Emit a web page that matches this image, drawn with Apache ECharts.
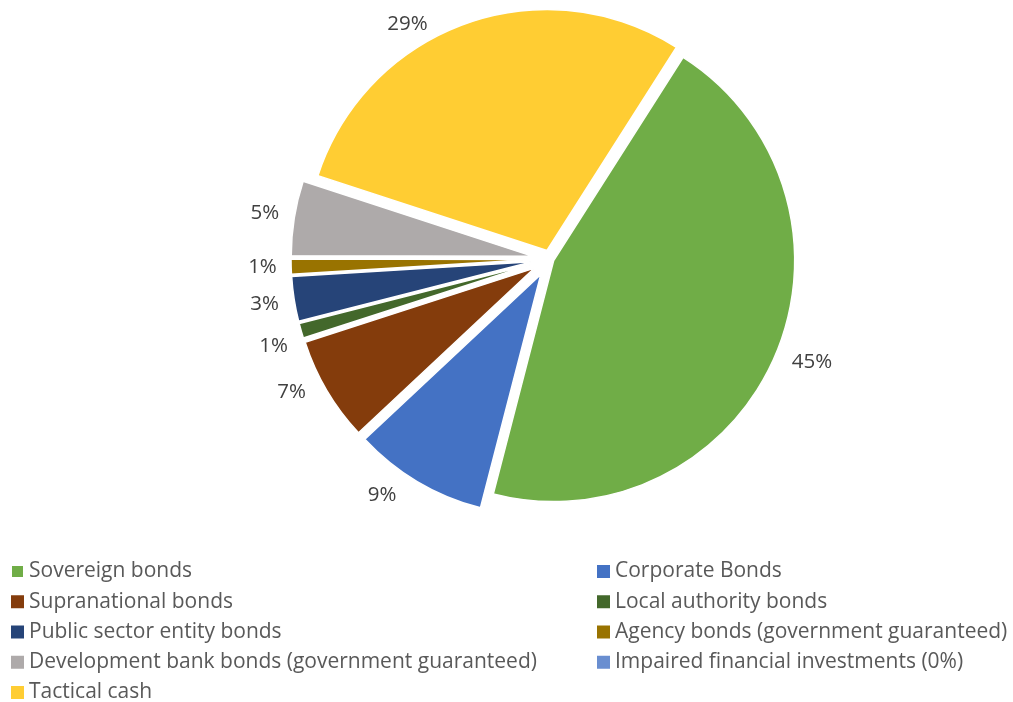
<!DOCTYPE html>
<html>
<head>
<meta charset="utf-8">
<script src="https://cdn.jsdelivr.net/npm/echarts@6/dist/echarts.min.js"></script>
<style>
  html, body { margin: 0; padding: 0; background: #ffffff; }
  #chart { width: 1013px; height: 702px; }
</style>
</head>
<body>
<div id="chart"></div>
<script>
// ---- data ----
const categories = [
  'Sovereign bonds',
  'Corporate Bonds',
  'Supranational bonds',
  'Local authority bonds',
  'Public sector entity bonds',
  'Agency bonds (government guaranteed)',
  'Development bank bonds (government guaranteed)',
  'Impaired financial investments (0%)',
  'Tactical cash'
];
const shares = [45, 9, 7, 1, 3, 1, 5, 0, 29];

const legendLeft = ['Sovereign bonds', 'Supranational bonds', 'Public sector entity bonds',
  'Development bank bonds (government guaranteed)', 'Tactical cash'];
const legendRight = ['Corporate Bonds', 'Local authority bonds',
  'Agency bonds (government guaranteed)', 'Impaired financial investments (0%)'];

// ---- styles / layout ----
const colors = ['#70AD47', '#4472C4', '#843C0C', '#43682B', '#264478', '#997300', '#AEAAAA', '#698ED0', '#FFCD33'];
const explodeGroups = [
  { offset: 4, members: ['Sovereign bonds'] },
  { offset: 9, members: ['Tactical cash'] },
  { offset: 18, members: ['Corporate Bonds', 'Supranational bonds', 'Local authority bonds',
      'Public sector entity bonds', 'Agency bonds (government guaranteed)',
      'Development bank bonds (government guaranteed)', 'Impaired financial investments (0%)'] }
];
// label placement tweaks (degrees along the circle, px radially), like Excel's best-fit labels
const labelTweaks = {
  'Sovereign bonds': [-2, 0],
  'Corporate Bonds': [5, 0],
  'Supranational bonds': [3.5, 0],
  'Local authority bonds': [-1.5, 0],
  'Tactical cash': [-12, -9]
};
const PIE_CENTER = [550, 259];
const PIE_RADIUS = 241;
const START_ANGLE = 57.5;      // echarts convention (deg, ccw from 3 o'clock)
const LABEL_GAP = 14;
const LABEL_MIN_Y = 20;
const FONT = 'Open Sans';

function offsetOf(name) {
  for (let g = 0; g < explodeGroups.length; g++) {
    if (explodeGroups[g].members.indexOf(name) >= 0) return explodeGroups[g].offset;
  }
  return 0;
}

const total = shares.reduce(function (a, b) { return a + b; }, 0);
// mid angle of each slice, measured clockwise from 12 o'clock (radians)
function midAngle(idx) {
  let cum = 0;
  for (let i = 0; i < idx; i++) cum += shares[i];
  const startFromTop = (90 - START_ANGLE) * Math.PI / 180;
  return startFromTop + (cum + shares[idx] / 2) / total * Math.PI * 2;
}

function labelPlacement(params) {
  const idx = params.dataIndex;
  const name = categories[idx];
  const off = offsetOf(name);
  const tweak = labelTweaks[name] || [0, 0];
  const w = params.labelRect.width, h = params.labelRect.height;
  const mid = midAngle(idx);
  const cx = PIE_CENTER[0] + off * Math.sin(mid);
  const cy = PIE_CENTER[1] - off * Math.cos(mid);
  let th = mid + tweak[0] * Math.PI / 180;
  function pos(t) {
    const d = PIE_RADIUS + LABEL_GAP + tweak[1] +
      Math.abs(Math.sin(t)) * w / 2 + Math.abs(Math.cos(t)) * h / 2;
    return [cx + d * Math.sin(t), cy - d * Math.cos(t)];
  }
  let p = pos(th);
  let guard = 0;
  while (p[1] < LABEL_MIN_Y && guard < 200) {
    th += (Math.sin(th) < 0 ? -1 : 1) * Math.PI / 360;
    p = pos(th);
    guard++;
  }
  return { x: p[0], y: p[1], align: 'center', verticalAlign: 'middle' };
}

function buildSeries(group, gi) {
  return {
    type: 'pie',
    name: 'g' + gi,
    center: PIE_CENTER,
    radius: [0, PIE_RADIUS],
    startAngle: START_ANGLE,
    clockwise: true,
    selectedMode: 'multiple',
    selectedOffset: group.offset,
    animation: false,
    silent: true,
    emphasis: { disabled: true },
    label: { show: false },
    labelLine: { show: false },
    itemStyle: { borderColor: '#ffffff', borderWidth: 1.5 },
    data: categories.map(function (name, i) {
      const inGroup = group.members.indexOf(name) >= 0;
      return {
        name: name,
        value: shares[i],
        selected: true,
        itemStyle: inGroup ? { color: colors[i] } : { color: 'rgba(0,0,0,0)', borderWidth: 0 }
      };
    })
  };
}

// invisible series that only carries the percentage labels
const labelSeries = {
  type: 'pie',
  name: 'labels',
  center: PIE_CENTER,
  radius: [0, PIE_RADIUS],
  startAngle: START_ANGLE,
  clockwise: true,
  animation: false,
  silent: true,
  percentPrecision: 0,
  minShowLabelAngle: 0.5,
  avoidLabelOverlap: false,
  emphasis: { disabled: true },
  itemStyle: { color: 'rgba(0,0,0,0)', borderWidth: 0 },
  label: {
    show: true,
    position: 'outside',
    formatter: '{d}%',
    color: '#404040',
    fontFamily: FONT,
    fontSize: 20.5
  },
  labelLine: { show: false, length: 10, length2: 0 },
  labelLayout: labelPlacement,
  data: categories.map(function (name, i) {
    return { name: name, value: shares[i], label: { show: shares[i] > 0 } };
  })
};

function legendData(names) {
  return names.map(function (n) {
    return { name: n, itemStyle: { color: colors[categories.indexOf(n)] } };
  });
}

const legendCommon = {
  orient: 'vertical',
  top: 561,
  height: 200,
  padding: 0,
  icon: 'rect',
  itemWidth: 13,
  itemHeight: 13,
  itemGap: 9.25,
  selectedMode: false,
  textStyle: { color: '#595959', fontFamily: FONT, fontSize: 21, lineHeight: 20 }
};

const option = {
  backgroundColor: '#ffffff',
  legend: [
    Object.assign({}, legendCommon, { left: 10, data: legendData(legendLeft) }),
    Object.assign({}, legendCommon, { left: 597, data: legendData(legendRight) })
  ],
  series: explodeGroups.map(buildSeries).concat([labelSeries])
};

const chart = echarts.init(document.getElementById('chart'), null, { renderer: 'canvas' });
chart.setOption(option);
</script>
</body>
</html>
